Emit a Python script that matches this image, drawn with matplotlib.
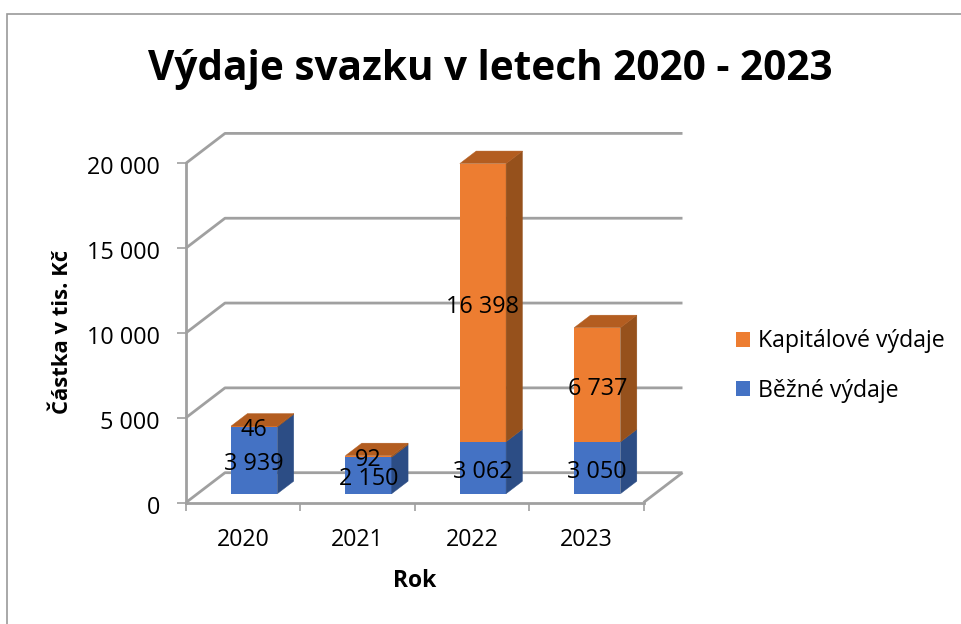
import matplotlib
matplotlib.use("Agg")
import matplotlib.pyplot as plt
from matplotlib.patches import Polygon, Rectangle
from matplotlib.transforms import ScaledTranslation

# ---- data ----
years = ["2020", "2021", "2022", "2023"]
bezne = [3939, 2150, 3062, 3050]
kapitalove = [46, 92, 16398, 6737]
bezne_labels = ["3 939", "2 150", "3 062", "3 050"]
kapitalove_labels = ["46", "92", "16 398", "6 737"]
y_ticks = [0, 5000, 10000, 15000, 20000]
y_tick_labels = ["0", "5 000", "10 000", "15 000", "20 000"]
title = "Výdaje svazku v letech 2020 - 2023"
series_names = ["Běžné výdaje", "Kapitálové výdaje"]

# ---- styling / layout ----
W, H = 961, 624
FONT = "Open Sans"
GRID = "#a0a0a0"
BLUE, BLUE_SIDE = "#4472c4", "#2c4d85"
ORANGE, ORANGE_SIDE, ORANGE_TOP = "#ed7d31", "#96511c", "#b35d20"
PX_X = 114.4          # pixels per category
PX_Y = 339.3 / 20000  # pixels per unit value
DEPTH_X = 39 / PX_X   # wall depth in data units
DEPTH_Y = 29.8 / PX_Y
BAR_W = 46.3 / PX_X
BAR_NEAR = 0.295      # bar front, fraction of depth
BAR_FAR = 0.715       # bar back, fraction of depth

plt.rcParams["font.family"] = FONT
fig = plt.figure(figsize=(W / 100, H / 100), dpi=100, facecolor="white")
ax = fig.add_axes([186 / W, 1 - 502.5 / H, 457.5 / W, 339.3 / H])
ax.set_xlim(0, len(years))
ax.set_ylim(0, 20000)
for s in ("top", "right"):
    ax.spines[s].set_visible(False)
for s in ("bottom", "left"):
    ax.spines[s].set_color(GRID)
    ax.spines[s].set_linewidth(2)

fig.add_artist(Rectangle((6.5 / W, -0.1), 1.2, 1.1 - 14.5 / H, transform=fig.transFigure,
                         fill=False, edgecolor="#9a9a9a", linewidth=1.2))

# walls and floor
line_kw = dict(color=GRID, lw=2, clip_on=False, zorder=1, solid_capstyle="butt")
n = len(years)
for v in y_ticks:
    ax.plot([0, DEPTH_X, n + DEPTH_X], [v, v + DEPTH_Y, v + DEPTH_Y], **line_kw)
ax.plot([n, n + DEPTH_X], [0, DEPTH_Y], **line_kw)

# bars
xs = [i + 0.5 + 11 / PX_X for i in range(n)]
base = BAR_NEAR * DEPTH_Y
off_x = (BAR_FAR - BAR_NEAR) * DEPTH_X
off_y = (BAR_FAR - BAR_NEAR) * DEPTH_Y
b1 = ax.bar(xs, bezne, BAR_W, bottom=base, color=BLUE, zorder=3, clip_on=False, label=series_names[0])
b2 = ax.bar(xs, kapitalove, BAR_W, bottom=[base + b for b in bezne], color=ORANGE,
            zorder=3, clip_on=False, label=series_names[1])

def side(x, y0, y1, color):
    r = x + BAR_W / 2
    ax.add_patch(Polygon([(r, y0), (r + off_x, y0 + off_y), (r + off_x, y1 + off_y), (r, y1)],
                         facecolor=color, edgecolor=color, linewidth=0.3, zorder=3, clip_on=False))

LABEL_SHIFT = -230
for x, a, b, la, lb in zip(xs, bezne, kapitalove, bezne_labels, kapitalove_labels):
    side(x, base, base + a, BLUE_SIDE)
    side(x, base + a, base + a + b, ORANGE_SIDE)
    t = base + a + b
    l, r = x - BAR_W / 2, x + BAR_W / 2
    ax.add_patch(Polygon([(l, t), (r, t), (r + off_x, t + off_y), (l + off_x, t + off_y)],
                         facecolor=ORANGE_TOP, edgecolor=ORANGE_TOP, linewidth=0.3, zorder=3, clip_on=False))
    ax.text(x, base + a / 2 + LABEL_SHIFT, la, ha="center", va="center",
            fontsize=16.8, color="black", zorder=5)
    ax.text(x, base + a + b / 2 + LABEL_SHIFT, lb, ha="center", va="center",
            fontsize=16.8, color="black", zorder=5)

# axes
ax.set_yticks(y_ticks)
ax.set_yticklabels(y_tick_labels, fontsize=16.8)
ax.set_xticks(range(n + 1))
ax.set_xticklabels([""] * (n + 1))
ax.set_xticks([i + 0.5 for i in range(n)], minor=True)
ax.set_xticklabels(years, minor=True, fontsize=16.7)
ax.tick_params(axis="x", which="minor", length=0, pad=18.5)
ax.tick_params(axis="x", which="major", length=6, width=1.2, color=GRID)
ax.tick_params(axis="y", length=6.7, width=1.2, color=GRID, pad=12)
for lab in ax.get_yticklabels():
    lab.set_transform(lab.get_transform() + ScaledTranslation(0, -2 / 100, fig.dpi_scale_trans))

fig.text(415 / W, 1 - 581 / H, "Rok", fontsize=16.5, fontweight="bold", ha="center", va="center")
fig.text(62 / W, 1 - 332 / H, "Částka v tis. Kč", fontsize=15.8, fontweight="bold",
         rotation=90, ha="center", va="center")
fig.text(490 / W, 1 - 69 / H, title, fontsize=29.2, fontweight="bold", ha="center", va="center")

fig.legend(handles=[b2, b1], labels=[series_names[1], series_names[0]],
           loc="center left", bbox_to_anchor=(736 / W, 1 - 366 / H), frameon=False,
           fontsize=16.7, handlelength=0.62, handleheight=0.62, handletextpad=0.33,
           labelspacing=1.1, borderpad=0, borderaxespad=0)

fig.savefig("out.png", dpi=100)
